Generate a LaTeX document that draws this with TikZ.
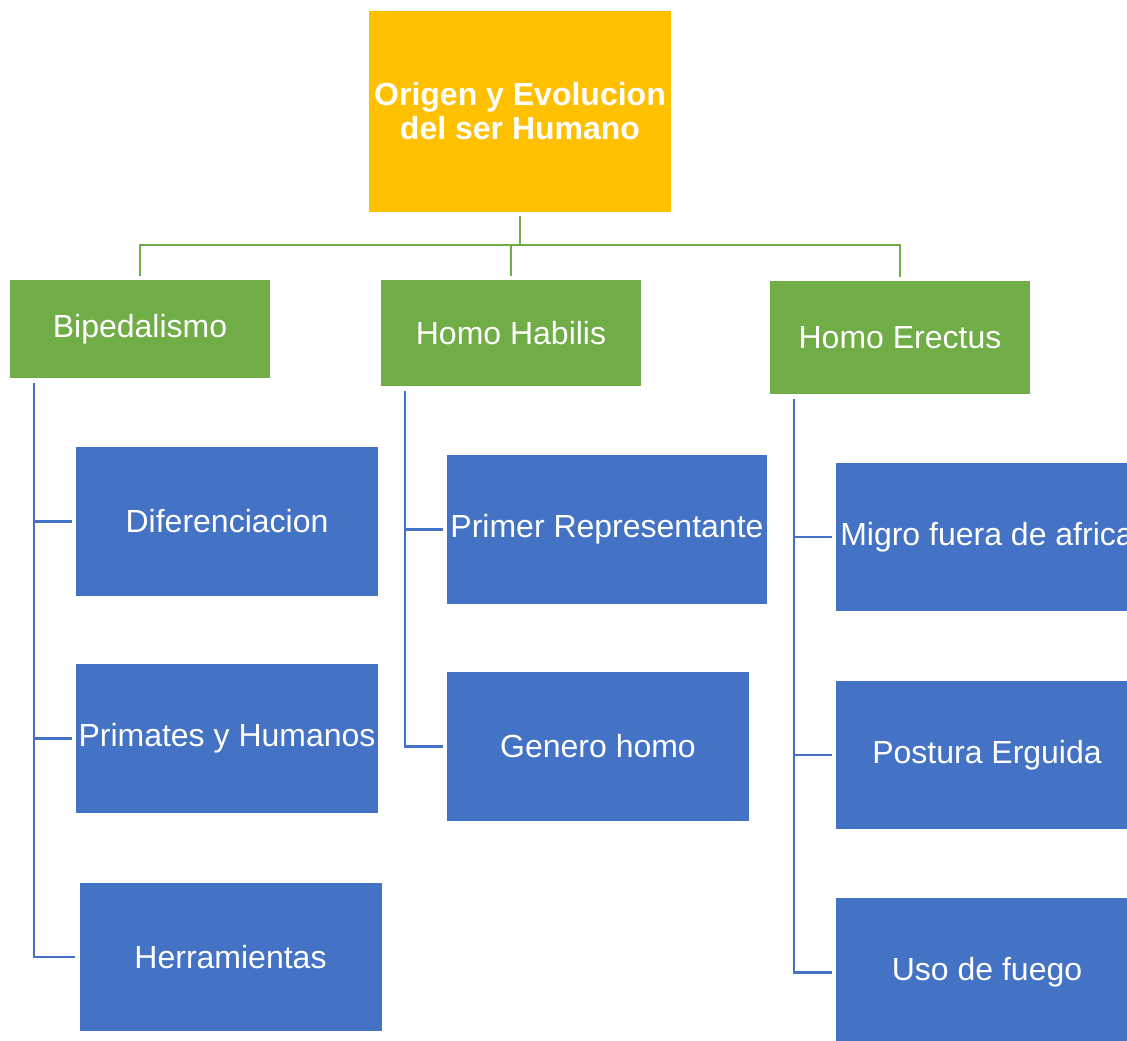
\documentclass[tikz,border=0pt]{standalone}
\usepackage{fontspec}
\setmainfont{Liberation Sans}
\usepackage{tikz}
\definecolor{gold}{HTML}{FFC000}
\definecolor{leaf}{HTML}{70AD47}
\definecolor{sea}{HTML}{4472C4}
\tikzstyle{topbox}=[rectangle,fill=gold,text=white,inner sep=0pt,align=center,minimum width=302pt,minimum height=201pt,font=\fontsize{32}{34}\selectfont\bfseries]
\tikzstyle{groupbox}=[rectangle,fill=leaf,text=white,inner sep=0pt,minimum width=260pt,font=\fontsize{32}{34}\selectfont]
\tikzstyle{itembox}=[rectangle,fill=sea,text=white,inner sep=0pt,minimum width=302pt,minimum height=149pt,font=\fontsize{32}{34}\selectfont]
\tikzstyle{greenedge}=[draw=leaf,line width=2.3pt]
\tikzstyle{blueedge}=[draw=sea,line width=2.3pt]

\begin{document}
\begin{tikzpicture}[x=1pt,y=1pt]
      \useasboundingbox (0,0) rectangle (1127,1041);
      \clip (0,0) rectangle (1127,1041);
      % top
      \node[topbox] (root) at (520,929.5) {Origen y Evolucion\\del ser Humano};
      % groups
      \node[groupbox,minimum height=98pt] (bip) at (140,712) {Bipedalismo};
      \node[groupbox,minimum height=106pt] (hab) at (511,708) {Homo Habilis};
      \node[groupbox,minimum height=113pt] (ere) at (900,703.5) {Homo Erectus};
      % items
      \node[itembox] (dif) at (227,519.5) {Diferenciacion};
      \node[itembox] (pri) at (227,302.5) {Primates y Humanos};
      \node[itembox,minimum height=148pt] (her) at (230.5,84) {Herramientas};
      \node[itembox,minimum width=320pt] (rep) at (607,511.5) {Primer Representante};
      \node[itembox] (gen) at (598,294.5) {Genero homo};
      \node[itembox,minimum height=148pt] (mig) at (987,504) {Migro fuera de africa};
      \node[itembox,minimum height=148pt] (pos) at (987,286) {Postura Erguida};
      \node[itembox] (uso) at (987,68.5) {Uso de fuego};
      % connectors
      \draw[greenedge,shorten <=4pt] (root.south) -- ++(0,-33) coordinate (bus);
      \foreach \n in {bip,hab,ere}
        \draw[greenedge,shorten >=4pt] (bus) -| (\n.north);
      \foreach \p/\c in {bip/dif,bip/pri,bip/her,hab/rep,hab/gen,ere/mig,ere/pos,ere/uso}
        \draw[blueedge,shorten >=4pt] ([xshift=24pt,yshift=-5pt]\p.south west) |- (\c.west);
    \end{tikzpicture}
\end{document}
